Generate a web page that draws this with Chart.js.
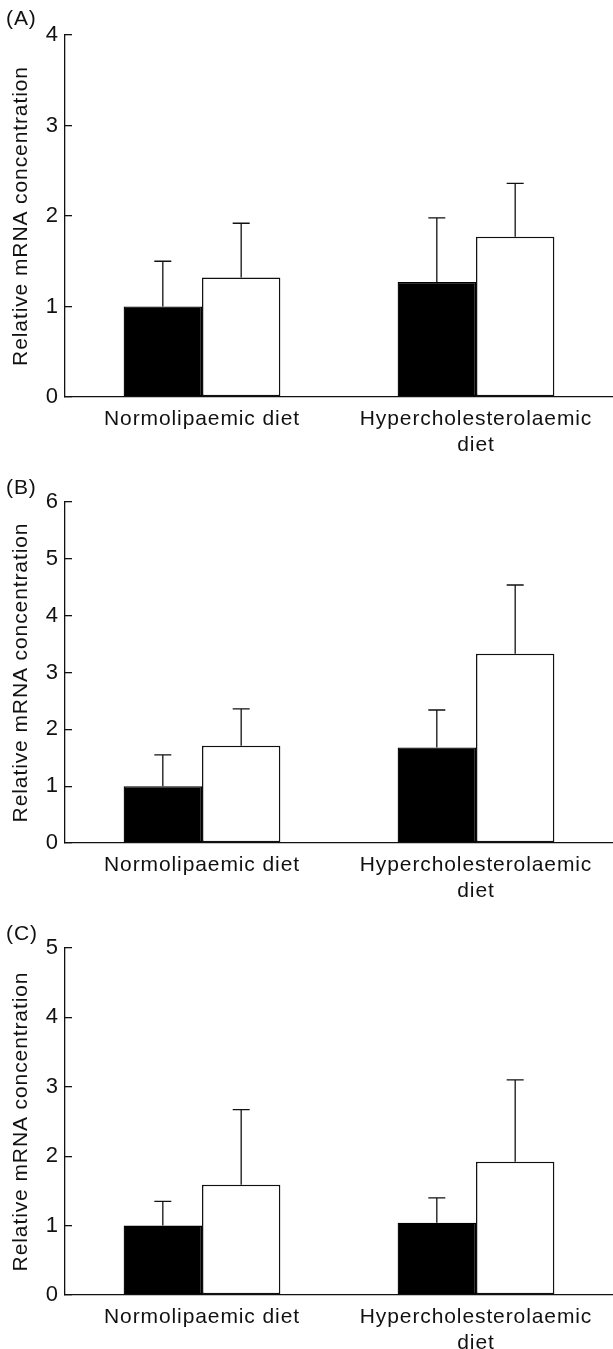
<!DOCTYPE html>
<html lang="en">
<head>
  <meta charset="UTF-8">
  <title>Relative mRNA concentration by diet</title>
  <script src="https://cdn.jsdelivr.net/npm/chart.js@4.4.1/dist/chart.umd.min.js"></script>
  <style>
    body { margin: 0; background: #fff; }
    .panel { position: absolute; left: 0; width: 613px; }
    .tag { position: absolute; left: 6px; font: 21px "Liberation Sans", Arial, sans-serif; line-height: 24px; letter-spacing: 0.9px; color: #111; }
  </style>
</head>
<body>
  <div class="panel" style="top:0;height:460px"><canvas id="chart-a" width="613" height="460"></canvas><div class="tag" style="top:6px">(A)</div></div>
  <div class="panel" style="top:460px;height:440px"><canvas id="chart-b" width="613" height="440"></canvas><div class="tag" style="top:15px">(B)</div></div>
  <div class="panel" style="top:900px;height:449px"><canvas id="chart-c" width="613" height="449"></canvas><div class="tag" style="top:21px">(C)</div></div>

  <script>
    // categories shared by the three panels
    const categories = [['Normolipaemic diet'], ['Hypercholesterolaemic', 'diet']];
    const yTitle = 'Relative mRNA concentration';

    // (A)
    const blackA = [1.00, 1.27];
    const blackErrA = [0.50, 0.71];
    const whiteA = [1.32, 1.77];
    const whiteErrA = [0.60, 0.59];
    // (B)
    const blackB = [1.00, 1.68];
    const blackErrB = [0.55, 0.66];
    const whiteB = [1.71, 3.33];
    const whiteErrB = [0.65, 1.21];
    // (C)
    const blackC = [1.00, 1.04];
    const blackErrC = [0.35, 0.36];
    const whiteC = [1.59, 1.92];
    const whiteErrC = [1.08, 1.18];

    const FONT = '"Liberation Sans", Arial, sans-serif';
    const INK = '#111';

    // one-sided error bars drawn above each bar
    const errorBars = {
      id: 'errorBars',
      afterDatasetsDraw(chart) {
        const ctx = chart.ctx;
        const y = chart.scales.y;
        ctx.save();
        ctx.strokeStyle = INK;
        ctx.lineWidth = 1.3;
        chart.data.datasets.forEach((ds, i) => {
          chart.getDatasetMeta(i).data.forEach((bar, j) => {
            const top = y.getPixelForValue(ds.data[j] + ds.errors[j]);
            ctx.beginPath();
            ctx.moveTo(bar.x, bar.y);
            ctx.lineTo(bar.x, top);
            ctx.moveTo(bar.x - 8.5, top);
            ctx.lineTo(bar.x + 8.5, top);
            ctx.stroke();
          });
        });
        ctx.restore();
      }
    };

    // the print uses slightly tracked text
    const tracking = {
      id: 'tracking',
      beforeUpdate(chart) { chart.ctx.letterSpacing = '0.9px'; },
      beforeDraw(chart) { chart.ctx.letterSpacing = '0.9px'; }
    };

    function makePanel(id, black, blackErr, white, whiteErr, yMax, areaTop, areaBottom) {
      const canvas = document.getElementById(id);
      const h = canvas.height;
      new Chart(canvas, {
        type: 'bar',
        data: {
          labels: categories,
          datasets: [
            { data: black, errors: blackErr, backgroundColor: '#000', borderColor: '#000', borderWidth: 1.3, borderSkipped: false },
            { data: white, errors: whiteErr, backgroundColor: '#fff', borderColor: INK, borderWidth: 1.5, borderSkipped: false }
          ]
        },
        options: {
          responsive: false,
          animation: false,
          devicePixelRatio: 1,
          categoryPercentage: 0.572,
          barPercentage: 1,
          layout: { padding: { top: areaTop, left: 0, right: 0, bottom: 0 } },
          plugins: { legend: { display: false }, tooltip: { enabled: false } },
          scales: {
            x: {
              grid: { display: false, drawTicks: false },
              border: { display: true, color: INK, width: 1.3 },
              ticks: { color: INK, padding: 10, font: { family: FONT, size: 21, lineHeight: 1.2 } },
              afterFit: s => { s.height = h - areaBottom; }
            },
            y: {
              min: 0,
              max: yMax,
              ticks: { stepSize: 1, color: INK, padding: 13, font: { family: FONT, size: 22 } },
              grid: { drawOnChartArea: false, tickLength: -7, color: INK, lineWidth: 1.3 },
              border: { display: true, color: INK, width: 1.3 },
              title: { display: true, text: yTitle, color: INK, padding: { top: 9, bottom: 0 }, font: { family: FONT, size: 21 } },
              afterFit: s => { s.width = 65; }
            }
          }
        },
        plugins: [tracking, errorBars]
      });
    }

    makePanel('chart-a', blackA, blackErrA, whiteA, whiteErrA, 4, 35, 397);
    makePanel('chart-b', blackB, blackErrB, whiteB, whiteErrB, 6, 42, 383);
    makePanel('chart-c', blackC, blackErrC, whiteC, whiteErrC, 5, 48, 395);
  </script>
</body>
</html>
